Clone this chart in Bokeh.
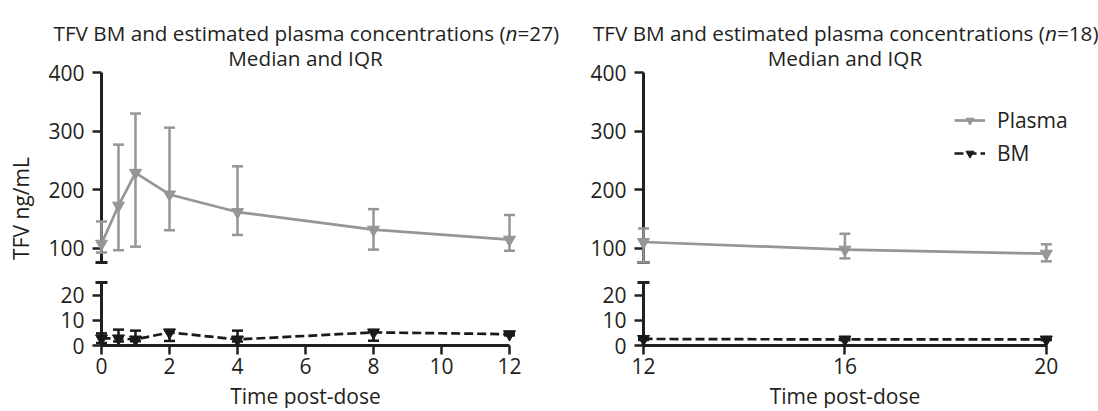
import math
from bokeh.plotting import figure
from bokeh.models import Range1d, FixedTicker, ColumnDataSource, Legend, LegendItem
from bokeh.layouts import row, column
from bokeh.embed import file_html
from bokeh.resources import INLINE
from bokeh.core.properties import value

# ---------------- data ----------------
time_a = [0, 0.5, 1, 2, 4, 8, 12]
plasma_med_a = [108, 173, 229, 192, 162, 132, 115]
plasma_q1_a = [93, 97, 103, 131, 123, 98, 96]
plasma_q3_a = [146, 277, 330, 306, 240, 167, 157]
bm_med_a = [2.8, 2.8, 2.4, 5.2, 2.4, 5.2, 4.5]
bm_q1_a = [1.0, 1.6, 1.7, 1.8, 1.6, 1.9, 4.0]
bm_q3_a = [4.8, 6.3, 5.9, 6.1, 5.9, 5.8, 5.0]

time_b = [12, 16, 20]
plasma_med_b = [111, 98, 91]
plasma_q1_b = [76, 83, 78]
plasma_q3_b = [134, 125, 107]
bm_med_b = [2.6, 2.4, 2.4]
bm_q1_b = [2.2, 2.1, 2.1]
bm_q3_b = [3.0, 2.8, 2.8]

xticks_a = [0, 2, 4, 6, 8, 10, 12]
xticks_b = [12, 16, 20]
yticks_top = [100, 200, 300, 400]
yticks_bot = [0, 10, 20]
top_limits = (76, 400)
bot_limits = (0, 25)
title_a = ("TFV BM and estimated plasma concentrations (", "n", "=27)")
title_b = ("TFV BM and estimated plasma concentrations (", "n", "=18)")
subtitle = "Median and IQR"
y_title = "TFV ng/mL"
x_title = "Time post-dose"
series_names = ["Plasma", "BM"]

# ---------------- style ----------------
FONT = "Open Sans"
TEXT = "#231f20"
AXIS = "#231f20"
GRAY = "#969696"
BLACK = "#1a1a1a"
TICK_FS = "21px"
TITLE_FS = "20.7px"
BM_DASH = "9 4"


def style_axis(ax, ticks, standoff):
    ax.ticker = FixedTicker(ticks=ticks)
    ax.axis_line_width = 3
    ax.axis_line_color = AXIS
    ax.major_tick_line_width = 2.5
    ax.major_tick_line_color = AXIS
    ax.major_tick_out = 9
    ax.major_tick_in = 0
    ax.minor_tick_line_color = None
    ax.major_label_text_font = FONT
    ax.major_label_text_font_size = TICK_FS
    ax.major_label_text_color = TEXT
    ax.major_label_standoff = standoff


def base_fig(xr, yr, fw, fh, bl, br, bt, bb, xaxis):
    p = figure(frame_width=fw, frame_height=fh, x_range=xr, y_range=yr,
               min_border_left=bl, min_border_right=br, min_border_top=bt, min_border_bottom=bb,
               x_axis_location="below" if xaxis else None,
               output_backend="svg", toolbar_location=None)
    p.outline_line_color = None
    p.xgrid.visible = False
    p.ygrid.visible = False
    p.background_fill_color = "white"
    p.border_fill_color = "white"
    return p


def add_text(p, x, y, txt, dx, dy, align, baseline, size, style="normal", angle=0.0):
    p.text(x=[x], y=[y], text=[txt], x_offset=dx, y_offset=dy, angle=angle,
           text_font=value(FONT), text_font_size=value(size), text_font_style=value(style),
           text_color=TEXT, text_align=value(align), text_baseline=value(baseline),
           level="overlay")


def add_series(p, x, med, q1, q3, color, dash):
    src = ColumnDataSource(dict(x=x, med=med, lower=q1, upper=q3))
    p.segment(x0="x", y0="lower", x1="x", y1="upper", source=src,
              line_color=color, line_width=2.5, level="overlay")
    p.scatter("x", "lower", source=src, marker="dash", size=11, line_color=color,
              line_width=2.5, level="overlay")
    p.scatter("x", "upper", source=src, marker="dash", size=11, line_color=color,
              line_width=2.5, level="overlay")
    ln = p.line("x", "med", source=src, line_color=color, line_width=2.7,
                line_dash=dash, level="overlay")
    sc = p.scatter("x", "med", source=src, marker="inverted_triangle", size=12,
                   fill_color=color, line_color=color, level="overlay")
    return ln, sc


def make_panel(times, pm, pq1, pq3, bm, bq1, bq3, xticks, pad, bl, fw, br, title, ylabel, legend):
    xr = Range1d(times[0], times[-1] + pad)
    yr_top = Range1d(*top_limits)
    yr_bot = Range1d(*bot_limits)
    top = base_fig(xr, yr_top, fw, 190, bl, br, 72, 10, False)
    bot = base_fig(xr, yr_bot, fw, 63, bl, br, 10, 63, True)

    style_axis(top.yaxis[0], yticks_top, 8)
    style_axis(bot.yaxis[0], yticks_bot, 8)
    style_axis(bot.xaxis[0], xticks, 3)
    bot.xaxis[0].bounds = (times[0], times[-1])

    # axis break caps at the ends of the two y-axis segments
    top.scatter([xr.start], [yr_top.start], marker="dash", size=12, line_width=3,
                line_color=AXIS, level="overlay")
    bot.scatter([xr.start], [yr_bot.end], marker="dash", size=12, line_width=3,
                line_color=AXIS, level="overlay")

    pl_ln, pl_sc = add_series(top, times, pm, pq1, pq3, GRAY, "solid")
    add_series(bot, times, bm, bq1, bq3, BLACK, BM_DASH)

    # titles (glyph text so that it may sit outside the frame)
    cx = (times[0] + times[-1]) / 2
    off = 200
    add_text(top, cx, yr_top.end, title[0], off, -40, "right", "alphabetic", TITLE_FS)
    add_text(top, cx, yr_top.end, title[1], off, -40, "left", "alphabetic", TITLE_FS, "italic")
    add_text(top, cx, yr_top.end, title[2], off + 12, -40, "left", "alphabetic", TITLE_FS)
    add_text(top, cx, yr_top.end, subtitle, 0, -15, "center", "alphabetic", TITLE_FS)
    add_text(bot, cx, yr_bot.start, x_title, 0, 50, "center", "alphabetic", TICK_FS)
    if ylabel:
        add_text(top, xr.start, yr_top.start, y_title, -81, -54, "center", "middle",
                 TICK_FS, angle=math.pi / 2)
    if legend:
        # hidden copies of the BM series (outside the top range) for the legend entry
        bsrc = ColumnDataSource(dict(x=times, med=bm))
        bm_ln = top.line("x", "med", source=bsrc, line_color=BLACK, line_width=2.7,
                         line_dash=BM_DASH)
        bm_sc = top.scatter("x", "med", source=bsrc, marker="inverted_triangle", size=12,
                            fill_color=BLACK, line_color=BLACK)
        leg = Legend(items=[LegendItem(label=series_names[0], renderers=[pl_ln, pl_sc]),
                            LegendItem(label=series_names[1], renderers=[bm_ln, bm_sc])],
                     location=(311, 95), orientation="vertical",
                     glyph_width=31, glyph_height=20, label_height=20, spacing=5,
                     label_standoff=12, padding=0, margin=0,
                     label_text_font=FONT, label_text_font_size=TICK_FS,
                     label_text_color=TEXT,
                     background_fill_alpha=0, border_line_alpha=0)
        top.add_layout(leg)
    return column(top, bot)


left = make_panel(time_a, plasma_med_a, plasma_q1_a, plasma_q3_a, bm_med_a, bm_q1_a, bm_q3_a,
                  xticks_a, 0, 101, 408, 58, title_a, True, False)
right = make_panel(time_b, plasma_med_b, plasma_q1_b, plasma_q3_b, bm_med_b, bm_q1_b, bm_q3_b,
                   xticks_b, 0.5, 76, 428, 27, title_b, False, True)

p = row(left, right)
open("out.html", "w").write(file_html(p, INLINE))
